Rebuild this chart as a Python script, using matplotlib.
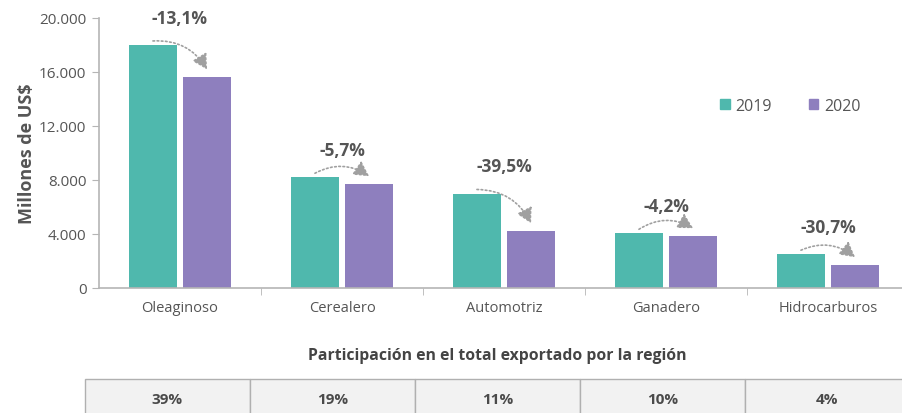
import matplotlib
matplotlib.use("Agg")
import matplotlib.pyplot as plt
from matplotlib.patches import Rectangle, FancyArrowPatch, Patch
import numpy as np

categories = ["Oleaginoso", "Cerealero", "Automotriz", "Ganadero", "Hidrocarburos"]
values_2019 = [18000, 8200, 7000, 4050, 2500]
values_2020 = [15640, 7730, 4240, 3880, 1730]
changes = ["-13,1%", "-5,7%", "-39,5%", "-4,2%", "-30,7%"]
shares = ["39%", "19%", "11%", "10%", "4%"]
yticks = [0, 4000, 8000, 12000, 16000, 20000]
ytick_labels = ["0", "4.000", "8.000", "12.000", "16.000", "20.000"]
series_names = ["2019", "2020"]

plt.rcParams['font.family'] = ['Open Sans', 'DejaVu Sans']

TEAL = "#4fb8ad"
PURPLE = "#8e7fbe"
TXT = "#555555"
AX = "#b5b5b5"

W, H = 902, 414
fig = plt.figure(figsize=(W/100, H/100), dpi=100)
ax = fig.add_axes([99/W, 1-289/H, 1-99/W, (289-19)/H])

x = np.arange(len(categories))
bw = 0.30
off = 0.167
ax.bar(x - off, values_2019, bw, color=TEAL, zorder=2)
ax.bar(x + off, values_2020, bw, color=PURPLE, zorder=2)

ax.set_ylim(0, 20000)
ax.set_xlim(-0.5, 4.5 - 7/162)
ax.set_yticks(yticks)
ax.set_yticklabels(ytick_labels)
ax.set_xticks(x)
ax.set_xticklabels(categories)
ax.set_xticks(np.arange(0.5, 4.5, 1), minor=True)
ax.tick_params(axis='x', which='major', length=0, pad=9, labelsize=10.5, labelcolor=TXT)
ax.tick_params(axis='x', which='minor', length=5, color=AX, direction='out')
ax.tick_params(axis='y', length=5, color=AX, labelsize=11, labelcolor=TXT, pad=4)
for s in ['top', 'right']:
    ax.spines[s].set_visible(False)
for s in ['left', 'bottom']:
    ax.spines[s].set_color(AX)
    ax.spines[s].set_linewidth(1.2)

ax.set_ylabel("Millones de US$", fontsize=13, fontweight='bold', color=TXT, labelpad=2)

for i in range(len(categories)):
    v1, v2 = values_2019[i], values_2020[i]
    ax.text(x[i], v1 + 2000, changes[i], ha='center', va='center', fontsize=12.5,
            fontweight='bold', color=TXT)
    arr = FancyArrowPatch((x[i] - off, v1 + 300), (x[i] + off, v2 + 550),
                          connectionstyle="arc3,rad=-0.3",
                          arrowstyle="-|>,head_length=6,head_width=3.3",
                          linestyle=(0, (1, 1.5)), color="#a0a0a0", lw=1.2,
                          mutation_scale=1.5, shrinkA=0, shrinkB=0, zorder=3)
    ax.add_patch(arr)

handles = [Patch(color=TEAL), Patch(color=PURPLE)]
leg = fig.legend(handles, series_names, loc='center left',
                 bbox_to_anchor=(706/W, 1-107/H), ncol=2, frameon=False,
                 handlelength=0.6, handleheight=0.6, handletextpad=0.35,
                 columnspacing=2.3, fontsize=11.5, labelcolor=TXT)

fig.text(497/W, 1-356/H, "Participación en el total exportado por la región",
         ha='center', va='center', fontsize=11.3, fontweight='bold', color="#444444")

left0, cw = 85, 165
top, bot = 380, 430
for i, s in enumerate(shares):
    xl = left0 + i*cw
    fig.add_artist(Rectangle((xl/W, 1-bot/H), cw/W, (bot-top)/H,
                             transform=fig.transFigure, facecolor="#f2f2f2",
                             edgecolor="#b0b0b0", lw=1.0))
    fig.text((xl + cw/2)/W, 1-400/H, s, ha='center', va='center', fontsize=11,
             fontweight='bold', color="#4a4a4a")

fig.savefig("out.png", dpi=100)
